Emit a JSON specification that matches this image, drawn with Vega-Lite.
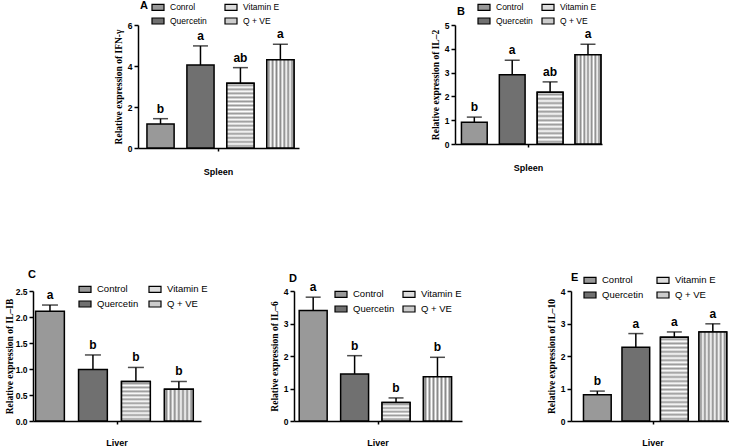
{
"$schema": "https://vega.github.io/schema/vega-lite/v6.json",
"background": "white",
"padding": {"left": 4, "top": 0, "right": 0, "bottom": 0},
"spacing": 93,
"resolve": {"scale": {"fill": "independent", "xOffset": "independent"}, "legend": {"fill": "independent"}},
"config": {
  "view": {"stroke": null},
  "axis": {"domainColor": "black", "domainWidth": 1.5, "tickColor": "black", "tickWidth": 1.5, "grid": false, "labelColor": "black", "titleColor": "black", "labelFont": "Liberation Sans", "labelFontWeight": "bold", "labelFontSize": 8.5, "titleFont": "Liberation Serif", "titleFontWeight": "bold", "titleFontSize": 9.5},
  "legend": {"labelFont": "Liberation Sans", "labelFontSize": 9.5, "labelColor": "black", "padding": 0},
  "title": {"font": "Liberation Sans", "fontWeight": "bold", "fontSize": 11, "anchor": "start", "frame": "group", "color": "black"}
},
"vconcat": [
 {"bounds": "flush", "spacing": 104,
  "resolve": {"scale": {"fill": "independent", "xOffset": "independent"}, "legend": {"fill": "independent"}},
  "hconcat": [
  {"width": 1, "height": 1, "data": {"values": []}, "mark": {"type": "point", "opacity": 0}, "encoding": {}},
  {"bounds": "flush", "spacing": 156,
   "resolve": {"scale": {"fill": "independent", "xOffset": "independent"}, "legend": {"fill": "independent"}},
   "hconcat": [
   {"width": 161, "height": 123,
    "title": {"text": "A", "dx": 2, "offset": -10},
    "data": {"values": [
      {"t": "Spleen", "g": "Control", "v": 1.17, "hi": 1.43, "s": "b"},
      {"t": "Spleen", "g": "Quercetin", "v": 4.05, "hi": 4.98, "s": "a"},
      {"t": "Spleen", "g": "Vitamin E", "v": 3.16, "hi": 3.92, "s": "ab"},
      {"t": "Spleen", "g": "Q + VE", "v": 4.30, "hi": 5.06, "s": "a"}
    ]},
    "encoding": {
      "x": {"field": "t", "type": "nominal", "title": null, "scale": {"paddingInner": 0, "paddingOuter": 0}, "axis": {"labelAngle": 0, "labelPadding": 16, "labelFontSize": 9, "tickSize": 3}},
      "xOffset": {"field": "g", "type": "nominal", "sort": ["Control", "Quercetin", "Vitamin E", "Q + VE"], "scale": {"paddingInner": 0.32, "paddingOuter": 0.175, "align": 0.64}},
      "y": {"field": "v", "type": "quantitative", "title": "Relative expression of IFN-γ", "scale": {"domain": [0, 6]}, "axis": {"values": [0, 2, 4, 6], "tickSize": 4}}
    },
    "layer": [
      {"mark": {"type": "rule", "color": "black", "strokeWidth": 1.5}, "encoding": {"y2": {"field": "hi"}}},
      {"mark": {"type": "tick", "color": "black", "thickness": 1.5, "size": 15}, "encoding": {"y": {"field": "hi", "type": "quantitative", "title": "Relative expression of IFN-γ"}}},
      {"mark": {"type": "bar", "stroke": "black", "strokeWidth": 1.5}, "encoding": {"fill": {"field": "g", "type": "nominal", "scale": {"domain": ["Control", "Quercetin", "Vitamin E", "Q + VE"], "range": ["#999999", "#707070", "#dddddd", "#cccccc"]}, "legend": {"orient": "none", "legendX": 14, "legendY": -24, "columns": 2, "title": null, "symbolType": "M-1.2,-0.6H1.2V0.6H-1.2Z", "symbolSize": 100, "symbolStrokeColor": "black", "symbolStrokeWidth": 1.2, "labelOffset": 6, "labelFontSize": 8.5, "rowPadding": 2, "columnPadding": 15, "labelExpr": "datum.label === 'Control' ? 'Conrol' : datum.label"}}}},
      {"transform": [{"filter": "datum.g === 'Vitamin E' || datum.g === 'Q + VE'"}], "mark": {"type": "bar", "stroke": "black", "strokeWidth": 1.5}, "encoding": {"fill": {"condition": {"test": "datum.g === 'Vitamin E'", "value": {"gradient": "linear", "x1": 0, "y1": 0, "x2": 0, "y2": 1, "stops": [
        {"offset": 0, "color": "#ffffff"}, {"offset": 0.03125, "color": "#999999"}, {"offset": 0.0625, "color": "#ffffff"}, {"offset": 0.09375, "color": "#999999"}, {"offset": 0.125, "color": "#ffffff"}, {"offset": 0.15625, "color": "#999999"}, {"offset": 0.1875, "color": "#ffffff"}, {"offset": 0.21875, "color": "#999999"}, {"offset": 0.25, "color": "#ffffff"}, {"offset": 0.28125, "color": "#999999"}, {"offset": 0.3125, "color": "#ffffff"}, {"offset": 0.34375, "color": "#999999"}, {"offset": 0.375, "color": "#ffffff"}, {"offset": 0.40625, "color": "#999999"}, {"offset": 0.4375, "color": "#ffffff"}, {"offset": 0.46875, "color": "#999999"}, {"offset": 0.5, "color": "#ffffff"}, {"offset": 0.53125, "color": "#999999"}, {"offset": 0.5625, "color": "#ffffff"}, {"offset": 0.59375, "color": "#999999"}, {"offset": 0.625, "color": "#ffffff"}, {"offset": 0.65625, "color": "#999999"}, {"offset": 0.6875, "color": "#ffffff"}, {"offset": 0.71875, "color": "#999999"}, {"offset": 0.75, "color": "#ffffff"}, {"offset": 0.78125, "color": "#999999"}, {"offset": 0.8125, "color": "#ffffff"}, {"offset": 0.84375, "color": "#999999"}, {"offset": 0.875, "color": "#ffffff"}, {"offset": 0.90625, "color": "#999999"}, {"offset": 0.9375, "color": "#ffffff"}, {"offset": 0.96875, "color": "#999999"}, {"offset": 1, "color": "#ffffff"}]}},
        "value": {"gradient": "linear", "x1": 0, "y1": 0, "x2": 1, "y2": 0, "stops": [
        {"offset": 0, "color": "#ffffff"}, {"offset": 0.0714, "color": "#888888"}, {"offset": 0.1429, "color": "#ffffff"}, {"offset": 0.2143, "color": "#888888"}, {"offset": 0.2857, "color": "#ffffff"}, {"offset": 0.3571, "color": "#888888"}, {"offset": 0.4286, "color": "#ffffff"}, {"offset": 0.5, "color": "#888888"}, {"offset": 0.5714, "color": "#ffffff"}, {"offset": 0.6429, "color": "#888888"}, {"offset": 0.7143, "color": "#ffffff"}, {"offset": 0.7857, "color": "#888888"}, {"offset": 0.8571, "color": "#ffffff"}, {"offset": 0.9286, "color": "#888888"}, {"offset": 1, "color": "#ffffff"}]}}}},
      {"mark": {"type": "text", "baseline": "bottom", "dy": -3, "font": "Liberation Sans", "fontWeight": "bold", "fontSize": 12}, "encoding": {"y": {"field": "hi", "type": "quantitative", "title": "Relative expression of IFN-γ"}, "text": {"field": "s"}}}
    ]
   },
   {"width": 147, "height": 119,
    "title": {"text": "B", "dx": 2, "offset": -16},
    "data": {"values": [
      {"t": "Spleen", "g": "Control", "v": 0.91, "hi": 1.13, "s": "b"},
      {"t": "Spleen", "g": "Quercetin", "v": 2.91, "hi": 3.52, "s": "a"},
      {"t": "Spleen", "g": "Vitamin E", "v": 2.17, "hi": 2.61, "s": "ab"},
      {"t": "Spleen", "g": "Q + VE", "v": 3.75, "hi": 4.19, "s": "a"}
    ]},
    "encoding": {
      "x": {"field": "t", "type": "nominal", "title": null, "scale": {"paddingInner": 0, "paddingOuter": 0}, "axis": {"labelAngle": 0, "labelPadding": 16, "labelFontSize": 9, "tickSize": 3}},
      "xOffset": {"field": "g", "type": "nominal", "sort": ["Control", "Quercetin", "Vitamin E", "Q + VE"], "scale": {"paddingInner": 0.32, "paddingOuter": 0.1, "align": 0.85}},
      "y": {"field": "v", "type": "quantitative", "title": "Relative expression of IL–2", "scale": {"domain": [0, 5]}, "axis": {"values": [0, 1, 2, 3, 4, 5], "tickSize": 4}}
    },
    "layer": [
      {"mark": {"type": "rule", "color": "black", "strokeWidth": 1.5}, "encoding": {"y2": {"field": "hi"}}},
      {"mark": {"type": "tick", "color": "black", "thickness": 1.5, "size": 15}, "encoding": {"y": {"field": "hi", "type": "quantitative", "title": "Relative expression of IL–2"}}},
      {"mark": {"type": "bar", "stroke": "black", "strokeWidth": 1.5}, "encoding": {"fill": {"field": "g", "type": "nominal", "scale": {"domain": ["Control", "Quercetin", "Vitamin E", "Q + VE"], "range": ["#999999", "#707070", "#dddddd", "#cccccc"]}, "legend": {"orient": "none", "legendX": 23, "legendY": -24, "columns": 2, "title": null, "symbolType": "M-1.2,-0.6H1.2V0.6H-1.2Z", "symbolSize": 100, "symbolStrokeColor": "black", "symbolStrokeWidth": 1.2, "labelOffset": 6, "labelFontSize": 8.5, "rowPadding": 2, "columnPadding": 6}}}},
      {"transform": [{"filter": "datum.g === 'Vitamin E' || datum.g === 'Q + VE'"}], "mark": {"type": "bar", "stroke": "black", "strokeWidth": 1.5}, "encoding": {"fill": {"condition": {"test": "datum.g === 'Vitamin E'", "value": {"gradient": "linear", "x1": 0, "y1": 0, "x2": 0, "y2": 1, "stops": [
        {"offset": 0, "color": "#ffffff"}, {"offset": 0.0417, "color": "#999999"}, {"offset": 0.0833, "color": "#ffffff"}, {"offset": 0.125, "color": "#999999"}, {"offset": 0.1667, "color": "#ffffff"}, {"offset": 0.2083, "color": "#999999"}, {"offset": 0.25, "color": "#ffffff"}, {"offset": 0.2917, "color": "#999999"}, {"offset": 0.3333, "color": "#ffffff"}, {"offset": 0.375, "color": "#999999"}, {"offset": 0.4167, "color": "#ffffff"}, {"offset": 0.4583, "color": "#999999"}, {"offset": 0.5, "color": "#ffffff"}, {"offset": 0.5417, "color": "#999999"}, {"offset": 0.5833, "color": "#ffffff"}, {"offset": 0.625, "color": "#999999"}, {"offset": 0.6667, "color": "#ffffff"}, {"offset": 0.7083, "color": "#999999"}, {"offset": 0.75, "color": "#ffffff"}, {"offset": 0.7917, "color": "#999999"}, {"offset": 0.8333, "color": "#ffffff"}, {"offset": 0.875, "color": "#999999"}, {"offset": 0.9167, "color": "#ffffff"}, {"offset": 0.9583, "color": "#999999"}, {"offset": 1, "color": "#ffffff"}]}},
        "value": {"gradient": "linear", "x1": 0, "y1": 0, "x2": 1, "y2": 0, "stops": [
        {"offset": 0, "color": "#ffffff"}, {"offset": 0.0714, "color": "#888888"}, {"offset": 0.1429, "color": "#ffffff"}, {"offset": 0.2143, "color": "#888888"}, {"offset": 0.2857, "color": "#ffffff"}, {"offset": 0.3571, "color": "#888888"}, {"offset": 0.4286, "color": "#ffffff"}, {"offset": 0.5, "color": "#888888"}, {"offset": 0.5714, "color": "#ffffff"}, {"offset": 0.6429, "color": "#888888"}, {"offset": 0.7143, "color": "#ffffff"}, {"offset": 0.7857, "color": "#888888"}, {"offset": 0.8571, "color": "#ffffff"}, {"offset": 0.9286, "color": "#888888"}, {"offset": 1, "color": "#ffffff"}]}}}},
      {"mark": {"type": "text", "baseline": "bottom", "dy": -3, "font": "Liberation Sans", "fontWeight": "bold", "fontSize": 12}, "encoding": {"y": {"field": "hi", "type": "quantitative", "title": "Relative expression of IL–2"}, "text": {"field": "s"}}}
    ]
   }
  ]}
 ]},
 {"bounds": "flush", "spacing": 93,
  "resolve": {"scale": {"fill": "independent", "xOffset": "independent"}, "legend": {"fill": "independent"}},
  "hconcat": [
   {"width": 168, "height": 130,
    "title": {"text": "C", "dx": -5, "offset": 3},
    "data": {"values": [
      {"t": "Liver", "g": "Control", "v": 2.11, "hi": 2.23, "s": "a"},
      {"t": "Liver", "g": "Quercetin", "v": 0.99, "hi": 1.27, "s": "b"},
      {"t": "Liver", "g": "Vitamin E", "v": 0.76, "hi": 1.03, "s": "b"},
      {"t": "Liver", "g": "Q + VE", "v": 0.61, "hi": 0.76, "s": "b"}
    ]},
    "encoding": {
      "x": {"field": "t", "type": "nominal", "title": null, "scale": {"paddingInner": 0, "paddingOuter": 0}, "axis": {"labelAngle": 0, "labelPadding": 14, "labelFontSize": 9, "tickSize": 3}},
      "xOffset": {"field": "g", "type": "nominal", "sort": ["Control", "Quercetin", "Vitamin E", "Q + VE"], "scale": {"paddingInner": 0.33, "paddingOuter": 0.12, "align": 0.25}},
      "y": {"field": "v", "type": "quantitative", "title": "Relative expression of IL–IB", "scale": {"domain": [0, 2.5]}, "axis": {"values": [0, 0.5, 1, 1.5, 2, 2.5], "format": ".1f", "tickSize": 4, "titlePadding": 1}}
    },
    "layer": [
      {"mark": {"type": "rule", "color": "black", "strokeWidth": 1.5}, "encoding": {"y2": {"field": "hi"}}},
      {"mark": {"type": "tick", "color": "black", "thickness": 1.5, "size": 16}, "encoding": {"y": {"field": "hi", "type": "quantitative", "title": "Relative expression of IL–IB"}}},
      {"mark": {"type": "bar", "stroke": "black", "strokeWidth": 1.5}, "encoding": {"fill": {"field": "g", "type": "nominal", "scale": {"domain": ["Control", "Quercetin", "Vitamin E", "Q + VE"], "range": ["#999999", "#707070", "#dddddd", "#cccccc"]}, "legend": {"orient": "none", "legendX": 46, "legendY": -8, "columns": 2, "title": null, "symbolType": "M-1.2,-0.6H1.2V0.6H-1.2Z", "symbolSize": 100, "symbolStrokeColor": "black", "symbolStrokeWidth": 1.2, "labelOffset": 6, "rowPadding": 3, "columnPadding": 7}}}},
      {"transform": [{"filter": "datum.g === 'Vitamin E' || datum.g === 'Q + VE'"}], "mark": {"type": "bar", "stroke": "black", "strokeWidth": 1.5}, "encoding": {"fill": {"condition": {"test": "datum.g === 'Vitamin E'", "value": {"gradient": "linear", "x1": 0, "y1": 0, "x2": 0, "y2": 1, "stops": [
        {"offset": 0, "color": "#ffffff"}, {"offset": 0.05, "color": "#999999"}, {"offset": 0.1, "color": "#ffffff"}, {"offset": 0.15, "color": "#999999"}, {"offset": 0.2, "color": "#ffffff"}, {"offset": 0.25, "color": "#999999"}, {"offset": 0.3, "color": "#ffffff"}, {"offset": 0.35, "color": "#999999"}, {"offset": 0.4, "color": "#ffffff"}, {"offset": 0.45, "color": "#999999"}, {"offset": 0.5, "color": "#ffffff"}, {"offset": 0.55, "color": "#999999"}, {"offset": 0.6, "color": "#ffffff"}, {"offset": 0.65, "color": "#999999"}, {"offset": 0.7, "color": "#ffffff"}, {"offset": 0.75, "color": "#999999"}, {"offset": 0.8, "color": "#ffffff"}, {"offset": 0.85, "color": "#999999"}, {"offset": 0.9, "color": "#ffffff"}, {"offset": 0.95, "color": "#999999"}, {"offset": 1, "color": "#ffffff"}]}},
        "value": {"gradient": "linear", "x1": 0, "y1": 0, "x2": 1, "y2": 0, "stops": [
        {"offset": 0, "color": "#ffffff"}, {"offset": 0.0714, "color": "#888888"}, {"offset": 0.1429, "color": "#ffffff"}, {"offset": 0.2143, "color": "#888888"}, {"offset": 0.2857, "color": "#ffffff"}, {"offset": 0.3571, "color": "#888888"}, {"offset": 0.4286, "color": "#ffffff"}, {"offset": 0.5, "color": "#888888"}, {"offset": 0.5714, "color": "#ffffff"}, {"offset": 0.6429, "color": "#888888"}, {"offset": 0.7143, "color": "#ffffff"}, {"offset": 0.7857, "color": "#888888"}, {"offset": 0.8571, "color": "#ffffff"}, {"offset": 0.9286, "color": "#888888"}, {"offset": 1, "color": "#ffffff"}]}}}},
      {"mark": {"type": "text", "baseline": "bottom", "dy": -3, "font": "Liberation Sans", "fontWeight": "bold", "fontSize": 12}, "encoding": {"y": {"field": "hi", "type": "quantitative", "title": "Relative expression of IL–IB"}, "text": {"field": "s"}}}
    ]
   },
   {"bounds": "flush", "spacing": 109,
    "resolve": {"scale": {"fill": "independent", "xOffset": "independent"}, "legend": {"fill": "independent"}},
    "hconcat": [
   {"width": 168, "height": 130,
    "title": {"text": "D", "dx": -5, "offset": -3},
    "data": {"values": [
      {"t": "Liver", "g": "Control", "v": 3.40, "hi": 3.81, "s": "a"},
      {"t": "Liver", "g": "Quercetin", "v": 1.45, "hi": 2.01, "s": "b"},
      {"t": "Liver", "g": "Vitamin E", "v": 0.57, "hi": 0.71, "s": "b"},
      {"t": "Liver", "g": "Q + VE", "v": 1.36, "hi": 1.96, "s": "b"}
    ]},
    "encoding": {
      "x": {"field": "t", "type": "nominal", "title": null, "scale": {"paddingInner": 0, "paddingOuter": 0}, "axis": {"labelAngle": 0, "labelPadding": 14, "labelFontSize": 9, "tickSize": 3}},
      "xOffset": {"field": "g", "type": "nominal", "sort": ["Control", "Quercetin", "Vitamin E", "Q + VE"], "scale": {"paddingInner": 0.325, "paddingOuter": 0.19, "align": 0.33}},
      "y": {"field": "v", "type": "quantitative", "title": "Relative expression of IL–6", "scale": {"domain": [0, 4]}, "axis": {"values": [0, 1, 2, 3, 4], "tickSize": 4}}
    },
    "layer": [
      {"mark": {"type": "rule", "color": "black", "strokeWidth": 1.5}, "encoding": {"y2": {"field": "hi"}}},
      {"mark": {"type": "tick", "color": "black", "thickness": 1.5, "size": 15}, "encoding": {"y": {"field": "hi", "type": "quantitative", "title": "Relative expression of IL–6"}}},
      {"mark": {"type": "bar", "stroke": "black", "strokeWidth": 1.5}, "encoding": {"fill": {"field": "g", "type": "nominal", "scale": {"domain": ["Control", "Quercetin", "Vitamin E", "Q + VE"], "range": ["#999999", "#707070", "#dddddd", "#cccccc"]}, "legend": {"orient": "none", "legendX": 41, "legendY": -3, "columns": 2, "title": null, "symbolType": "M-1.2,-0.6H1.2V0.6H-1.2Z", "symbolSize": 100, "symbolStrokeColor": "black", "symbolStrokeWidth": 1.2, "labelOffset": 6, "rowPadding": 3, "columnPadding": 5}}}},
      {"transform": [{"filter": "datum.g === 'Vitamin E' || datum.g === 'Q + VE'"}], "mark": {"type": "bar", "stroke": "black", "strokeWidth": 1.5}, "encoding": {"fill": {"condition": {"test": "datum.g === 'Vitamin E'", "value": {"gradient": "linear", "x1": 0, "y1": 0, "x2": 0, "y2": 1, "stops": [
        {"offset": 0, "color": "#ffffff"}, {"offset": 0.1, "color": "#999999"}, {"offset": 0.2, "color": "#ffffff"}, {"offset": 0.3, "color": "#999999"}, {"offset": 0.4, "color": "#ffffff"}, {"offset": 0.5, "color": "#999999"}, {"offset": 0.6, "color": "#ffffff"}, {"offset": 0.7, "color": "#999999"}, {"offset": 0.8, "color": "#ffffff"}, {"offset": 0.9, "color": "#999999"}, {"offset": 1, "color": "#ffffff"}]}},
        "value": {"gradient": "linear", "x1": 0, "y1": 0, "x2": 1, "y2": 0, "stops": [
        {"offset": 0, "color": "#ffffff"}, {"offset": 0.0714, "color": "#888888"}, {"offset": 0.1429, "color": "#ffffff"}, {"offset": 0.2143, "color": "#888888"}, {"offset": 0.2857, "color": "#ffffff"}, {"offset": 0.3571, "color": "#888888"}, {"offset": 0.4286, "color": "#ffffff"}, {"offset": 0.5, "color": "#888888"}, {"offset": 0.5714, "color": "#ffffff"}, {"offset": 0.6429, "color": "#888888"}, {"offset": 0.7143, "color": "#ffffff"}, {"offset": 0.7857, "color": "#888888"}, {"offset": 0.8571, "color": "#ffffff"}, {"offset": 0.9286, "color": "#888888"}, {"offset": 1, "color": "#ffffff"}]}}}},
      {"mark": {"type": "text", "baseline": "bottom", "dy": -3, "font": "Liberation Sans", "fontWeight": "bold", "fontSize": 12}, "encoding": {"y": {"field": "hi", "type": "quantitative", "title": "Relative expression of IL–6"}, "text": {"field": "s"}}}
    ]
   },
   {"width": 164, "height": 130,
    "title": {"text": "E", "dx": 0, "offset": -9},
    "data": {"values": [
      {"t": "Liver", "g": "Control", "v": 0.81, "hi": 0.92, "s": "b"},
      {"t": "Liver", "g": "Quercetin", "v": 2.27, "hi": 2.69, "s": "a"},
      {"t": "Liver", "g": "Vitamin E", "v": 2.58, "hi": 2.74, "s": "a"},
      {"t": "Liver", "g": "Q + VE", "v": 2.74, "hi": 2.99, "s": "a"}
    ]},
    "encoding": {
      "x": {"field": "t", "type": "nominal", "title": null, "scale": {"paddingInner": 0, "paddingOuter": 0}, "axis": {"labelAngle": 0, "labelPadding": 14, "labelFontSize": 9, "tickSize": 3}},
      "xOffset": {"field": "g", "type": "nominal", "sort": ["Control", "Quercetin", "Vitamin E", "Q + VE"], "scale": {"paddingInner": 0.28, "paddingOuter": 0.27, "align": 0.6}},
      "y": {"field": "v", "type": "quantitative", "title": "Relative expression of IL–10", "scale": {"domain": [0, 4]}, "axis": {"values": [0, 1, 2, 3, 4], "tickSize": 4}}
    },
    "layer": [
      {"mark": {"type": "rule", "color": "black", "strokeWidth": 1.5}, "encoding": {"y2": {"field": "hi"}}},
      {"mark": {"type": "tick", "color": "black", "thickness": 1.5, "size": 15}, "encoding": {"y": {"field": "hi", "type": "quantitative", "title": "Relative expression of IL–10"}}},
      {"mark": {"type": "bar", "stroke": "black", "strokeWidth": 1.5}, "encoding": {"fill": {"field": "g", "type": "nominal", "scale": {"domain": ["Control", "Quercetin", "Vitamin E", "Q + VE"], "range": ["#999999", "#707070", "#dddddd", "#cccccc"]}, "legend": {"orient": "none", "legendX": 13, "legendY": -17, "columns": 2, "title": null, "symbolType": "M-1.2,-0.6H1.2V0.6H-1.2Z", "symbolSize": 100, "symbolStrokeColor": "black", "symbolStrokeWidth": 1.2, "labelOffset": 6, "rowPadding": 3, "columnPadding": 10}}}},
      {"transform": [{"filter": "datum.g === 'Vitamin E' || datum.g === 'Q + VE'"}], "mark": {"type": "bar", "stroke": "black", "strokeWidth": 1.5}, "encoding": {"fill": {"condition": {"test": "datum.g === 'Vitamin E'", "value": {"gradient": "linear", "x1": 0, "y1": 0, "x2": 0, "y2": 1, "stops": [
        {"offset": 0, "color": "#ffffff"}, {"offset": 0.025, "color": "#999999"}, {"offset": 0.05, "color": "#ffffff"}, {"offset": 0.075, "color": "#999999"}, {"offset": 0.1, "color": "#ffffff"}, {"offset": 0.125, "color": "#999999"}, {"offset": 0.15, "color": "#ffffff"}, {"offset": 0.175, "color": "#999999"}, {"offset": 0.2, "color": "#ffffff"}, {"offset": 0.225, "color": "#999999"}, {"offset": 0.25, "color": "#ffffff"}, {"offset": 0.275, "color": "#999999"}, {"offset": 0.3, "color": "#ffffff"}, {"offset": 0.325, "color": "#999999"}, {"offset": 0.35, "color": "#ffffff"}, {"offset": 0.375, "color": "#999999"}, {"offset": 0.4, "color": "#ffffff"}, {"offset": 0.425, "color": "#999999"}, {"offset": 0.45, "color": "#ffffff"}, {"offset": 0.475, "color": "#999999"}, {"offset": 0.5, "color": "#ffffff"}, {"offset": 0.525, "color": "#999999"}, {"offset": 0.55, "color": "#ffffff"}, {"offset": 0.575, "color": "#999999"}, {"offset": 0.6, "color": "#ffffff"}, {"offset": 0.625, "color": "#999999"}, {"offset": 0.65, "color": "#ffffff"}, {"offset": 0.675, "color": "#999999"}, {"offset": 0.7, "color": "#ffffff"}, {"offset": 0.725, "color": "#999999"}, {"offset": 0.75, "color": "#ffffff"}, {"offset": 0.775, "color": "#999999"}, {"offset": 0.8, "color": "#ffffff"}, {"offset": 0.825, "color": "#999999"}, {"offset": 0.85, "color": "#ffffff"}, {"offset": 0.875, "color": "#999999"}, {"offset": 0.9, "color": "#ffffff"}, {"offset": 0.925, "color": "#999999"}, {"offset": 0.95, "color": "#ffffff"}, {"offset": 0.975, "color": "#999999"}, {"offset": 1, "color": "#ffffff"}]}},
        "value": {"gradient": "linear", "x1": 0, "y1": 0, "x2": 1, "y2": 0, "stops": [
        {"offset": 0, "color": "#ffffff"}, {"offset": 0.0714, "color": "#888888"}, {"offset": 0.1429, "color": "#ffffff"}, {"offset": 0.2143, "color": "#888888"}, {"offset": 0.2857, "color": "#ffffff"}, {"offset": 0.3571, "color": "#888888"}, {"offset": 0.4286, "color": "#ffffff"}, {"offset": 0.5, "color": "#888888"}, {"offset": 0.5714, "color": "#ffffff"}, {"offset": 0.6429, "color": "#888888"}, {"offset": 0.7143, "color": "#ffffff"}, {"offset": 0.7857, "color": "#888888"}, {"offset": 0.8571, "color": "#ffffff"}, {"offset": 0.9286, "color": "#888888"}, {"offset": 1, "color": "#ffffff"}]}}}},
      {"mark": {"type": "text", "baseline": "bottom", "dy": -3, "font": "Liberation Sans", "fontWeight": "bold", "fontSize": 12}, "encoding": {"y": {"field": "hi", "type": "quantitative", "title": "Relative expression of IL–10"}, "text": {"field": "s"}}}
    ]
   }
   ]}
 ]}
]
}
